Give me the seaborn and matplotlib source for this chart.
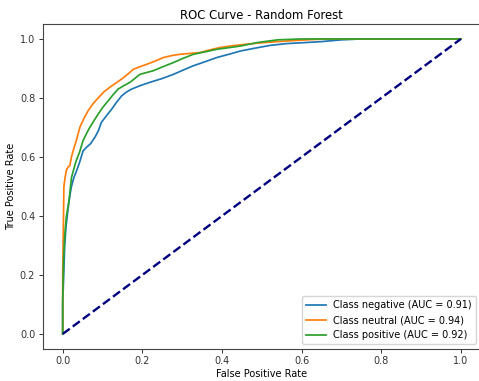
import matplotlib
matplotlib.use("Agg")
import matplotlib.pyplot as plt
import seaborn as sns
import pandas as pd

title = "ROC Curve - Random Forest"
classes = ["negative", "neutral", "positive"]
aucs = [0.91, 0.94, 0.92]

neg_fpr = [0, 0, 0.003, 0.005, 0.008, 0.013, 0.018, 0.022, 0.028, 0.034, 0.042, 0.051, 0.06, 0.07,
           0.081, 0.09, 0.097, 0.11, 0.123, 0.135, 0.148, 0.16, 0.173, 0.195, 0.219, 0.25, 0.278, 0.30,
           0.328, 0.36, 0.387, 0.42, 0.446, 0.48, 0.52, 0.56, 0.60, 0.65, 0.70, 0.75, 0.80, 0.9, 1.0]
neg_tpr = [0, 0.10, 0.22, 0.30, 0.36, 0.42, 0.47, 0.50, 0.53, 0.55, 0.58, 0.62, 0.633, 0.645,
           0.667, 0.69, 0.717, 0.74, 0.762, 0.785, 0.807, 0.82, 0.83, 0.842, 0.853, 0.866, 0.88, 0.893,
           0.909, 0.924, 0.937, 0.949, 0.959, 0.968, 0.978, 0.984, 0.987, 0.991, 0.997, 1.0, 1.0, 1.0, 1.0]

neu_fpr = [0, 0, 0.001, 0.003, 0.006, 0.009, 0.013, 0.018, 0.022, 0.026, 0.034, 0.043, 0.053, 0.064,
           0.076, 0.089, 0.103, 0.118, 0.133, 0.148, 0.163, 0.177, 0.194, 0.211, 0.232, 0.253, 0.275,
           0.295, 0.32, 0.345, 0.37, 0.395, 0.42, 0.446, 0.49, 0.54, 0.6, 0.66, 0.75, 1.0]
neu_tpr = [0, 0.20, 0.30, 0.50, 0.53, 0.554, 0.565, 0.571, 0.60, 0.62, 0.655, 0.70, 0.73, 0.757,
           0.78, 0.80, 0.82, 0.836, 0.85, 0.864, 0.88, 0.897, 0.906, 0.914, 0.925, 0.937, 0.944,
           0.948, 0.951, 0.954, 0.963, 0.971, 0.976, 0.98, 0.986, 0.991, 0.996, 1.0, 1.0, 1.0]

pos_fpr = [0, 0, 0.002, 0.005, 0.009, 0.016, 0.022, 0.028, 0.034, 0.042, 0.051, 0.06, 0.068, 0.078,
           0.089, 0.1, 0.114, 0.126, 0.139, 0.154, 0.169, 0.182, 0.194, 0.21, 0.227, 0.25, 0.278, 0.30,
           0.328, 0.36, 0.387, 0.42, 0.446, 0.49, 0.54, 0.6, 1.0]
pos_tpr = [0, 0.12, 0.25, 0.33, 0.396, 0.453, 0.53, 0.56, 0.588, 0.615, 0.655, 0.68, 0.70, 0.722,
           0.745, 0.767, 0.79, 0.81, 0.83, 0.842, 0.853, 0.867, 0.88, 0.886, 0.892, 0.905, 0.92, 0.933,
           0.948, 0.957, 0.965, 0.971, 0.976, 0.988, 0.997, 1.0, 1.0]

diag = [0, 1]

rows = []
for cls, auc, fx, ty in zip(classes, aucs, [neg_fpr, neu_fpr, pos_fpr], [neg_tpr, neu_tpr, pos_tpr]):
    lab = f"Class {cls} (AUC = {auc:.2f})"
    for i, (a, b) in enumerate(zip(fx, ty)):
        rows.append({"fpr": a, "tpr": b, "label": lab, "order": i})
df = pd.DataFrame(rows)

fig = plt.figure(figsize=(4.79, 3.81), dpi=100)
ax = fig.add_axes([42.8 / 479, 32.3 / 381, 438 / 479, 324.5 / 381])

sns.lineplot(data=df, x="fpr", y="tpr", hue="label", units="label", estimator=None, sort=False,
             palette=["#1f77b4", "#ff7f0e", "#2ca02c"], linewidth=1.25, ax=ax)
sns.lineplot(x=diag, y=diag, color="navy", linestyle="--", linewidth=1.7, legend=False, ax=ax)

ax.set_xlabel("False Positive Rate", fontsize=7, labelpad=2)
ax.set_ylabel("True Positive Rate", fontsize=7, labelpad=3)
ax.set_title(title, fontsize=8.4, pad=4)
ax.tick_params(labelsize=7, length=3, width=0.7, pad=2.5, colors="#333333")
for s in ax.spines.values():
    s.set_linewidth(0.8)
    s.set_color("#444444")

handles, labels = ax.get_legend_handles_labels()
ax.legend(handles, labels, loc="lower right", fontsize=7, title=None)

fig.savefig("out.png", dpi=100)
